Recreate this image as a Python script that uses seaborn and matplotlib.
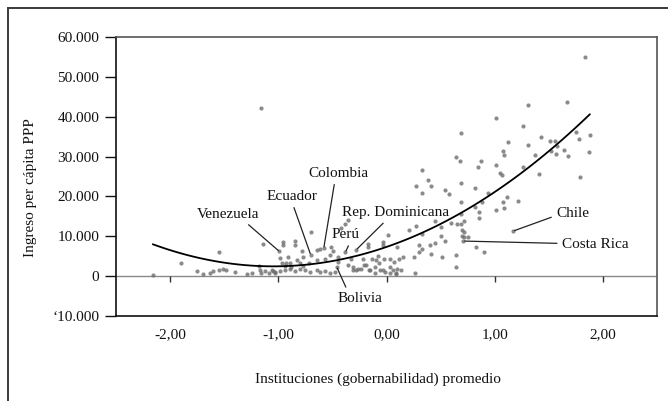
import pandas as pd
import numpy as np
import matplotlib.pyplot as plt
import seaborn as sns
from matplotlib.patches import Rectangle

# Estilo general
sns.set_theme(style="white")
plt.rcParams['font.family'] = ['Liberation Serif', 'DejaVu Serif']

# --- Datos (instituciones promedio, ingreso en miles de US$ PPP) ---
inst_x = [
    # ingresos altos
    1.83, 1.67, 1.31, 1.26, 1.75, 1.88, 1.78, 1.43, 1.51, 1.56, 1.31, 1.58, 1.52, 1.64,
    1.57, 1.37, 1.68, 1.87, 1.26, 1.41, 1.79,
    1.01, 0.685, 1.12, 0.64, 0.68, 0.87, 0.845, 1.076, 1.09, 1.01, 1.05, 1.07, 0.325,
    0.38, 0.27, 0.41, 0.325, 0.685, 0.54, 0.58, 0.82, 0.94, 1.11, 1.08, 1.215, 0.88,
    0.69, 0.82, 1.09, 1.01, 0.855, 0.69, 0.857, 0.72, 0.69, 0.60, 0.65, 0.445, 0.50,
    0.27, 0.21, 0.325, 0.70, 0.72, 0.70, 0.756, 0.72, 0.50, 0.54, 0.445, 0.405, 0.30,
    0.33, 0.30, 0.25, 0.41, 0.51, 0.64, 0.83, 0.90, 0.64, 0.26,
    # zona media
    -0.36, -0.38, -0.42, -0.17, -0.17, -0.03, -0.03, 0.01, 0.10,
    -0.33, -0.22, -0.13, -0.08, -0.10, -0.02, 0.03, 0.07, 0.12, -0.07, -0.36, -0.31,
    -0.28, -0.24, -0.19, -0.16, -0.11, -0.035, 0.03, 0.06, 0.10, 0.13, -0.45, 0.15,
    -0.31, -0.26, -0.21, -0.15, -0.11, -0.06, -0.01, 0.03, 0.09, 0.09,
    # zona media-baja
    -0.96, -0.96, -0.98, -0.97, -0.845, -0.845, -0.70, -0.61, -0.645, -0.78, -0.77,
    -0.91, -0.83, -0.89, -0.80, -0.93,
    -1.06, -1.03, -0.98, -0.94, -0.89, -0.845, -0.80, -0.75, -0.71, -0.645, -0.61,
    -0.57, -0.52, -0.48,
    -0.94, -0.88, -0.77, -0.72, -0.645, -0.57, -0.51, -0.49, -0.52, -0.445,
    # zona baja
    -2.16, -1.90, -1.545, -1.75, -1.70, -1.63, -1.60, -1.545, -1.51, -1.48, -1.40,
    -1.29, -1.24, -1.18, -1.17, -1.16, -1.14, -1.12, -1.09, -1.05, -1.03, -1.16,
]
ingreso_y = [
    54.9, 43.6, 43.0, 37.7, 36.2, 35.4, 34.3, 35.0, 33.9, 33.8, 32.8, 32.7, 31.4, 31.6,
    30.7, 30.5, 30.2, 31.1, 27.4, 25.6, 24.8,
    39.7, 35.8, 33.6, 29.8, 29.0, 28.9, 27.4, 31.3, 30.5, 27.8, 25.8, 25.5, 26.6,
    24.1, 22.5, 22.5, 20.9, 23.4, 21.7, 20.5, 22.2, 20.9, 19.8, 18.6, 18.8, 18.7,
    18.5, 17.3, 17.2, 16.7, 16.2, 15.7, 14.6, 13.8, 13.1, 13.4, 13.0, 13.8, 12.4,
    12.6, 11.5, 10.5, 11.5, 11.1, 10.0, 9.9, 9.9, 10.0, 8.8, 8.4, 7.9, 7.8,
    6.7, 6.1, 4.8, 5.6, 4.9, 5.4, 7.3, 6.0, 2.3, 0.7,
    14.1, 13.2, 12.0, 8.0, 7.4, 8.6, 7.8, 10.3, 7.4,
    4.4, 4.2, 4.4, 5.0, 4.0, 4.4, 4.4, 3.6, 4.2, 3.2, 2.8, 2.3,
    1.5, 1.9, 2.8, 1.5, 2.3, 1.5, 2.3, 1.5, 1.9, 1.5, 4.9, 4.9,
    1.5, 1.8, 2.8, 1.5, 0.7, 1.5, 1.0, 0.7, 0.7, 0.5,
    8.6, 7.8, 4.6, 3.3, 8.8, 7.8, 11.1, 6.7, 6.5, 6.4, 4.9,
    4.7, 4.0, 3.2, 3.2, 3.4,
    1.5, 1.1, 1.3, 1.5, 1.8, 1.2, 1.8, 1.5, 1.1, 1.5, 1.1,
    1.3, 0.8, 1.1,
    2.6, 2.3, 2.6, 3.2, 4.0, 4.3, 7.4, 6.3, 5.3, 3.5,
    0.25, 3.2, 6.0, 1.4, 0.5, 0.8, 1.3, 1.5, 1.8, 1.6, 1.0,
    0.5, 0.7, 2.6, 1.5, 0.8, 8.0, 1.2, 0.7, 1.3, 0.7, 42.1,
]

# Países señalados
paises = ["Venezuela", "Ecuador", "Colombia", "Perú", "Rep. Dominicana",
          "Bolivia", "Chile", "Costa Rica"]
paises_x = [-0.99, -0.70, -0.58, -0.38, -0.28, -0.46, 1.17, 0.71]
paises_y = [6.2, 5.3, 7.0, 6.0, 6.6, 2.3, 11.3, 8.8]

x_ticks = [-2, -1, 0, 1, 2]
x_tick_labels = ["-2,00", "-1,00", "0,00", "1,00", "2,00"]
y_ticks = [-10000, 0, 10000, 20000, 30000, 40000, 50000, 60000]
y_tick_labels = ["\u201810.000", "0", "10.000", "20.000", "30.000", "40.000",
                 "50.000", "60.000"]

# posición del texto de cada etiqueta (x, y en miles) y punto de arranque de la línea
etiquetas_pos = {
    "Venezuela": ((-1.464, 14.7), (0.75, 0.0)),
    "Ecuador": ((-0.87, 19.1), (0.5, 0.0)),
    "Colombia": ((-0.448, 24.9), (0.45, 0.0)),
    "Perú": ((-0.379, 9.5), (0.68, 0.0)),
    "Rep. Dominicana": ((0.088, 15.1), (0.42, 0.0)),
    "Bolivia": ((-0.245, -6.4), (0.23, 1.0)),
    "Chile": ((1.718, 14.8), (0.0, 0.35)),
    "Costa Rica": ((1.926, 7.0), (0.0, 0.6)),
}

df = pd.DataFrame({
    "inst": inst_x + paises_x,
    "ingreso": [v * 1000 for v in ingreso_y + paises_y],
})

fig = plt.figure(figsize=(6.68, 4.01), dpi=100)
ax = fig.add_axes([116 / 668, 85 / 401, 541 / 668, 279 / 401])

# marco exterior de la figura
fig.add_artist(Rectangle((8 / 668, -0.1), 1.2, 1.1 - 8 / 401, transform=fig.transFigure,
                         fill=False, edgecolor="#3a3a3a", linewidth=1.4))

ax.axhline(0, color="#8a8a8a", lw=1.0, zorder=1)

sns.regplot(data=df, x="inst", y="ingreso", order=2, ci=None, ax=ax,
            scatter_kws=dict(s=9, color="#6e6e6e", linewidths=0, zorder=3),
            line_kws=dict(color="black", lw=1.3, zorder=4))

# marcas del eje x sobre la línea del cero
ax.vlines(x_ticks, -1500, 0, color="#333333", lw=1.0, zorder=2)

for nombre, px, py in zip(paises, paises_x, paises_y):
    (tx, ty), rel = etiquetas_pos[nombre]
    ax.annotate(nombre, xy=(px, py * 1000), xytext=(tx, ty * 1000),
                ha="center", va="baseline", fontsize=11, color="#111111",
                arrowprops=dict(arrowstyle="-", color="#222222", lw=0.9,
                                shrinkA=1, shrinkB=1, relpos=rel))

ax.set_xlim(-2.5, 2.5)
ax.set_ylim(-10000, 60000)
ax.set_xticks(x_ticks, x_tick_labels)
ax.set_yticks(y_ticks, y_tick_labels)
ax.tick_params(axis="x", length=0, pad=9, labelsize=11, colors="#111111")
ax.tick_params(axis="y", length=8, width=1.0, pad=4, labelsize=11, colors="#111111",
               left=True)
ax.set_xlabel("")
ax.set_ylabel("")

for lado in ["left", "bottom"]:
    ax.spines[lado].set_color("#111111")
    ax.spines[lado].set_linewidth(1.2)
for lado in ["top", "right"]:
    ax.spines[lado].set_color("#555555")
    ax.spines[lado].set_linewidth(1.2)

fig.text(31 / 668, 1 - 187.5 / 401, "Ingreso per cápita PPP", rotation=90,
         ha="center", va="center", fontsize=11, color="#111111")
fig.text(378 / 668, 1 - 379 / 401, "Instituciones (gobernabilidad) promedio",
         ha="center", va="center", fontsize=11, color="#111111")

fig.savefig("out.png", dpi=100)
